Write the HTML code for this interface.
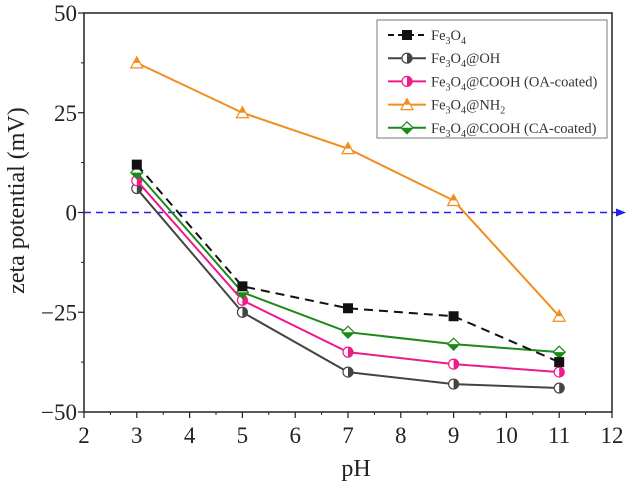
<!DOCTYPE html>
<html><head><meta charset="utf-8"><style>
body{margin:0;background:#fff}
svg{display:block;font-family:"Liberation Serif",serif}
</style></head><body>
<svg id="c" width="640" height="483" viewBox="0 0 640 483"></svg>
<script>
const categories=[3,5,7,9,11];
const fe3o4=[12,-18.5,-24,-26,-37.5];
const feOH=[6,-25,-40,-43,-44];
const feOA=[8,-22,-35,-38,-40];
const feNH2=[37.5,25,16,3,-26];
const feCA=[10,-20,-30,-33,-35];
const xTicks=[2,3,4,5,6,7,8,9,10,11,12];
const yTicks=[50,25,0,-25,-50];
const NS='http://www.w3.org/2000/svg';
const svg=document.getElementById('c');
const L=84,R=612,T=13,B=412;
const xs=v=>L+(v-2)/10*(R-L);
const ys=v=>T+(50-v)/100*(B-T);
function el(t,a,p){const e=document.createElementNS(NS,t);for(const k in a)e.setAttribute(k,a[k]);(p||svg).appendChild(e);return e;}
const fr=el('rect',{x:L,y:T,width:R-L,height:B-T,fill:'none',stroke:'#222','stroke-width':1.5});


xTicks.forEach(v=>{
 const x=xs(v);
 el('line',{x1:x,y1:B,x2:x,y2:B+6,stroke:'#222','stroke-width':1.2});
 if(v<12){el('line',{x1:x+(R-L)/20,y1:B,x2:x+(R-L)/20,y2:B+3,stroke:'#222','stroke-width':1});}
 const t=el('text',{x:x,y:B+31,'text-anchor':'middle','font-size':23,fill:'#222'});
 t.textContent=v;
 
 
});
yTicks.forEach(v=>{
 const y=ys(v);
 el('line',{x1:L-6,y1:y,x2:L,y2:y,stroke:'#222','stroke-width':1.2});
 if(v>-50)el('line',{x1:L-3,y1:ys(v-12.5),x2:L,y2:ys(v-12.5),stroke:'#222','stroke-width':1});
 const t=el('text',{x:L-7,y:y+8,'text-anchor':'end','font-size':23,fill:'#222'});
 t.textContent=v<0?'\u2212'+(-v):v;
 
 
});
const xt=el('text',{x:(L+R)/2+8,y:476,'text-anchor':'middle','font-size':24,fill:'#222'});
xt.textContent='pH';


const yt=el('text',{x:0,y:0,'text-anchor':'middle','font-size':24,fill:'#222',transform:'translate(24,'+ys(3)+') rotate(-90)'});
yt.textContent='zeta potential (mV)';


const zl=el('line',{x1:L,y1:ys(0),x2:618,y2:ys(0),stroke:'#2222ee','stroke-width':1.5,'stroke-dasharray':'7,5'});


const ah=el('polygon',{points:`616,${ys(0)-4} 626,${ys(0)} 616,${ys(0)+4}`,fill:'#2222ee'});


function marker(g,kind,x,y,c){
 if(kind==='sq'){el('rect',{x:x-5,y:y-5,width:10,height:10,fill:c},g);}
 else if(kind==='half'){el('circle',{cx:x,cy:y,r:5,fill:'#fff',stroke:c,'stroke-width':1.2},g);el('path',{d:`M${x},${y-5} A5,5 0 0 1 ${x},${y+5} Z`,fill:c},g);}
 else if(kind==='tri'){el('polygon',{points:`${x},${y-6} ${x+6},${y+5} ${x-6},${y+5}`,fill:'#fff',stroke:c,'stroke-width':1.2},g);el('polygon',{points:`${x},${y-6} ${x+3},${y} ${x-3},${y}`,fill:c},g);}
 else if(kind==='dia'){el('polygon',{points:`${x},${y-6} ${x+6},${y} ${x},${y+6} ${x-6},${y}`,fill:'#fff',stroke:c,'stroke-width':1.2},g);el('polygon',{points:`${x-6},${y} ${x+6},${y} ${x},${y+6}`,fill:c},g);}
}
const series=[
 {name:'series-fe3o4-oh',d:feOH,c:'#444',k:'half',dash:null},
 {name:'series-fe3o4-cooh-oa',d:feOA,c:'#ee1a8c',k:'half',dash:null},
 {name:'series-fe3o4-cooh-ca',d:feCA,c:'#1a8a1a',k:'dia',dash:null},
 {name:'series-fe3o4',d:fe3o4,c:'#111',k:'sq',dash:'9,6'},
 {name:'series-fe3o4-nh2',d:feNH2,c:'#f28c1c',k:'tri',dash:null}
];
series.forEach(s=>{
 const g=el('g',{});
 
 
 const pts=s.d.map((v,i)=>xs(categories[i])+','+ys(v)).join(' ');
 const a={points:pts,fill:'none',stroke:s.c,'stroke-width':2};
 if(s.dash)a['stroke-dasharray']=s.dash;
 el('polyline',a,g);
 s.d.forEach((v,i)=>marker(g,s.k,xs(categories[i]),ys(v),s.c));
});
const lg=el('g',{});


el('rect',{x:377,y:20,width:230,height:118,fill:'#fff',stroke:'#777','stroke-width':1},lg);
const le=[
 {c:'#111',k:'sq',dash:'6,4',html:['Fe','3','O','4','']},
 {c:'#444',k:'half',html:['Fe','3','O','4','@OH']},
 {c:'#ee1a8c',k:'half',html:['Fe','3','O','4','@COOH (OA-coated)']},
 {c:'#f28c1c',k:'tri',html:['Fe','3','O','4','@NH','2']},
 {c:'#1a8a1a',k:'dia',html:['Fe','3','O','4','@COOH (CA-coated)']}
];
le.forEach((e,i)=>{
 const y=35+i*23.2;
 const g=el('g',{},lg);
 
 
 const a={x1:388,y1:y,x2:426,y2:y,stroke:e.c,'stroke-width':2};
 if(e.dash)a['stroke-dasharray']=e.dash;
 el('line',a,g);
 marker(g,e.k,407,y,e.c);
 const t=el('text',{x:431,y:y+5,'font-size':14.5,fill:'#333'},g);
 e.html.forEach((p,j)=>{const ts=el('tspan',{},t);ts.textContent=p;if(j%2===1){ts.setAttribute('font-size','10');ts.setAttribute('dy','4');}else if(j>0){ts.setAttribute('dy','-4');}});
});
</script>
</body></html>
